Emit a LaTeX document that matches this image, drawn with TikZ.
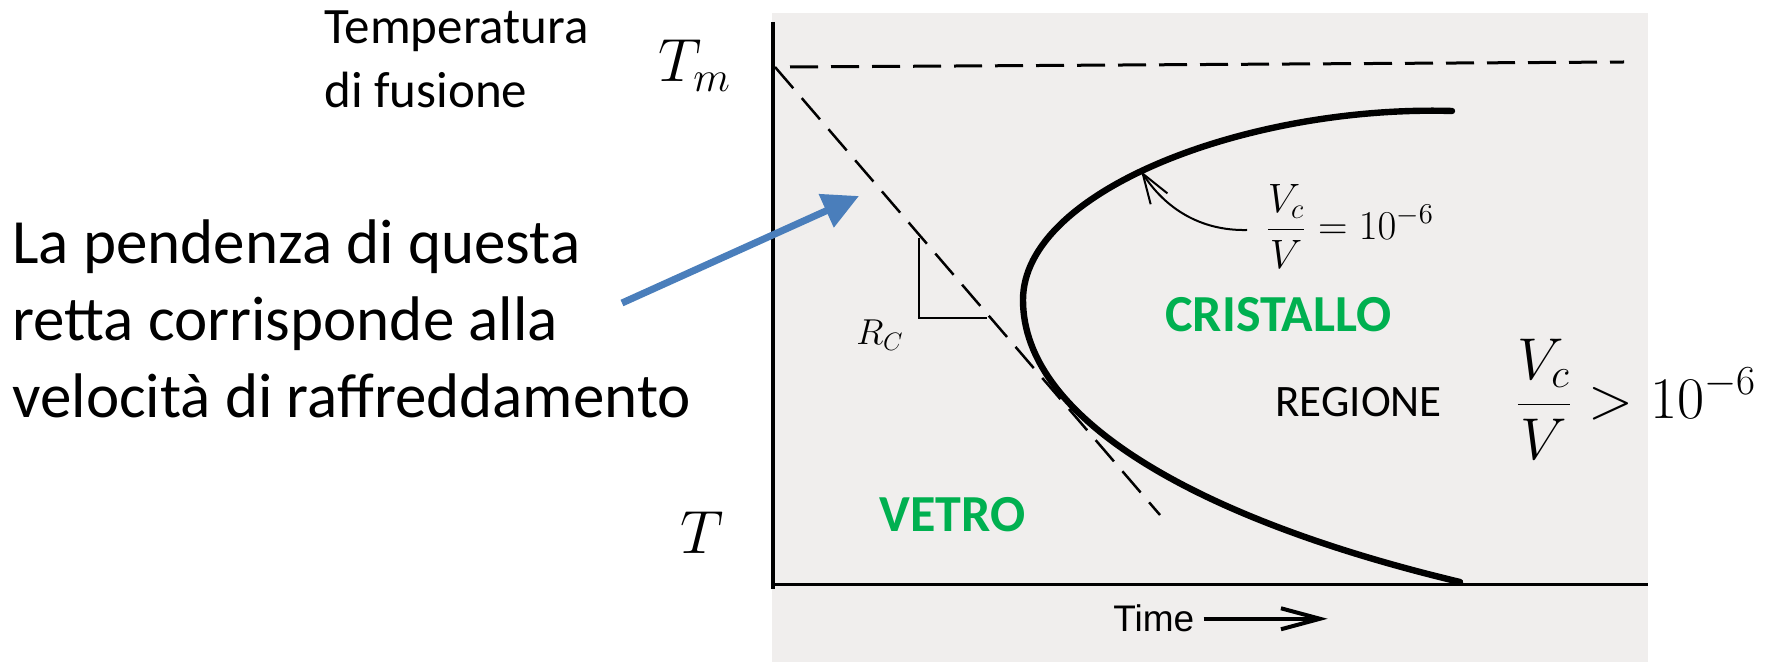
\RequirePackage{fix-cm}
\documentclass[tikz,border=0pt]{standalone}
\usepackage[no-math]{fontspec}
\setmainfont{Carlito}
\newfontfamily\timefont{Liberation Sans}
\usetikzlibrary{arrows.meta}
\definecolor{scanbg}{RGB}{240,238,237}
\definecolor{glassgreen}{RGB}{0,176,80}
\definecolor{noteblue}{RGB}{74,126,187}

\begin{document}
\begin{tikzpicture}[x=0.5pt, y=-0.5pt, every node/.style={inner sep=0pt},
    guide/.style={line width=1.5pt, dash pattern=on 14pt off 6.5pt},
    ttt/.style={line width=3.2pt, line cap=round},
    zone/.style={anchor=base west, text=glassgreen, font=\fontsize{26}{30}\selectfont\bfseries}]
  \useasboundingbox (0,0) rectangle (1779,662);
  % scanned plot background
  \fill[scanbg] (772,13) rectangle (1648,662);
  \coordinate (ytop) at (773,22);
  \coordinate (origin) at (773,585);
  \coordinate (xend) at (1648,585);
  \coordinate (tm) at (775,67);
  \draw[line width=2pt] (ytop) -- (773,589);
  \draw[line width=1.5pt] (origin) -- (xend);
  \draw[guide] (790,67) -- (1624,62);
  \draw[guide, line width=1.25pt] (tm) -- (1160,515);
  \draw[line width=0.8pt] (919,238) -- (919,318) -- (987,318);
  \draw[ttt] (1452,111) .. controls (1250,105) and (1023,190) .. (1023,300)
    .. controls (1023,420) and (1200,520) .. (1460,582);
  % labels on the plot
  \node[anchor=base west, font=\fontsize{18}{20}\selectfont] (rc) at (856,345) {$R_C$};
  \node[anchor=base west, font=\fontsize{20.5}{24}\selectfont] (vclbl) at (1265,240) {$\displaystyle\frac{V_c}{V} = 10^{-6}$};
  \coordinate (isotail) at (1247,230);
  \coordinate (isotip) at (1141,171);
  \draw[line width=1pt, -{Straight Barb[length=15pt, width=10pt]}] (isotail) .. controls (1200,231) and (1165,208) .. (isotip);
  \node[zone] (cryst) at (1165,332) {CRISTALLO};
  \node[zone] (glass) at (879,532) {VETRO};
  \node[anchor=base west, font=\fontsize{22.5}{26}\selectfont] (region) at (1275,417) {REGIONE};
  \node[anchor=base west, font=\fontsize{29.5}{34}\selectfont] (crit) at (1515,419) {$\displaystyle\frac{V_c}{V} > 10^{-6}$};
  \node[anchor=base west, font=\timefont\fontsize{18.5}{22}\selectfont] (timelbl) at (1113,632) {Time};
  \draw[line width=2pt, -{Straight Barb[length=19.5pt, width=10.5pt]}] ([xshift=4.5pt]timelbl.east) -- ++(124,0);
  % axis labels and note
  \node[anchor=base west, font=\fontsize{30.5}{34}\selectfont] (tmlbl) at (658,82) {$T_m$};
  \node[anchor=base west, font=\fontsize{30.5}{34}\selectfont] (tlbl) at (680,553) {$T$};
  \node[anchor=base west, align=left, font=\fontsize{25.5}{32}\selectfont] (meltlbl) at (324,108) {Temperatura\\di fusione};
  \node[anchor=base west, align=left, font=\fontsize{31.5}{38.5}\selectfont] (slopenote) at (12,418) {La pendenza di questa\\retta corrisponde alla\\velocità di raffreddamento};
  \coordinate (notetail) at (622,303);
  \coordinate (slopept) at (859,196);
  \draw[noteblue, line width=3.5pt, -{Triangle[length=18pt, width=17.5pt]}] (notetail) -- (slopept);
\end{tikzpicture}
\end{document}
